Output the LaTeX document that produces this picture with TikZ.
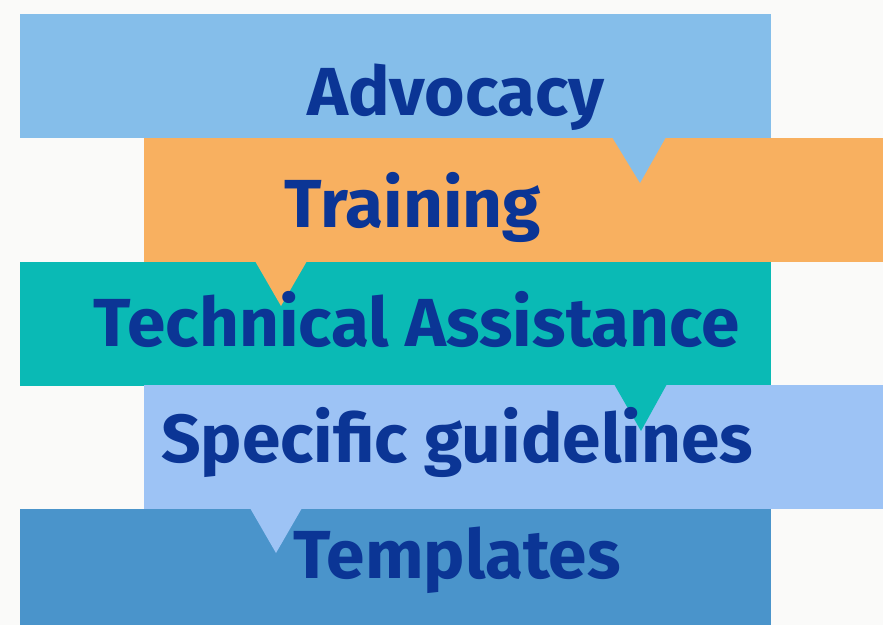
\documentclass[tikz,border=0pt]{standalone}
\usepackage{fontspec}
\setmainfont{Fira Sans}[FakeStretch=1.02]
\definecolor{paper}{HTML}{FAFAF9}
\definecolor{skyband}{HTML}{85BEEA}
\definecolor{orangeband}{HTML}{F8B060}
\definecolor{tealband}{HTML}{0ABAB5}
\definecolor{paleband}{HTML}{9DC3F5}
\definecolor{steelband}{HTML}{4A94CB}
\definecolor{inkblue}{HTML}{0B3595}
\begin{document}
\begin{tikzpicture}[x=1pt, y=-1pt,
  band/.style={shape=rectangle, inner sep=0pt, outer sep=0pt, anchor=north west, minimum height=124pt},
  caption/.style={anchor=base, text=inkblue, font=\fontsize{68}{68}\selectfont\bfseries}]
\fill[paper] (0,0) rectangle (883,625);
\useasboundingbox (0,0) rectangle (883,625);
% bands, each pointer drawn over the band below it
\node[band, fill=skyband, minimum width=751pt](advocacy) at (20,14) {};
\node[band, fill=orangeband, minimum width=739pt](training) at (144,138) {};
\fill[skyband] (612,137) -- (640,183) -- (666,137) -- cycle;
\node[band, fill=tealband, minimum width=751pt](technical) at (20,262) {};
\fill[orangeband] (255,261) -- (281,306) -- (307,261) -- cycle;
\node[band, fill=paleband, minimum width=739pt](specific) at (144,385) {};
\fill[tealband] (614,384) -- (641,431) -- (667,384) -- cycle;
\node[band, fill=steelband, minimum width=751pt, minimum height=116pt](templates) at (20,509) {};
\fill[paleband] (250,508) -- (276,553) -- (302,508) -- cycle;
% captions
\node[caption](0) at (456,115) {Advocacy};
\node[caption](1) at (413,227) {Training};
\node[caption](2) at (417,346) {Technical Assistance};
\node[caption](3) at (457,462) {Specific guidelines};
\node[caption](4) at (457,578) {Templates};
\end{tikzpicture}
\end{document}
